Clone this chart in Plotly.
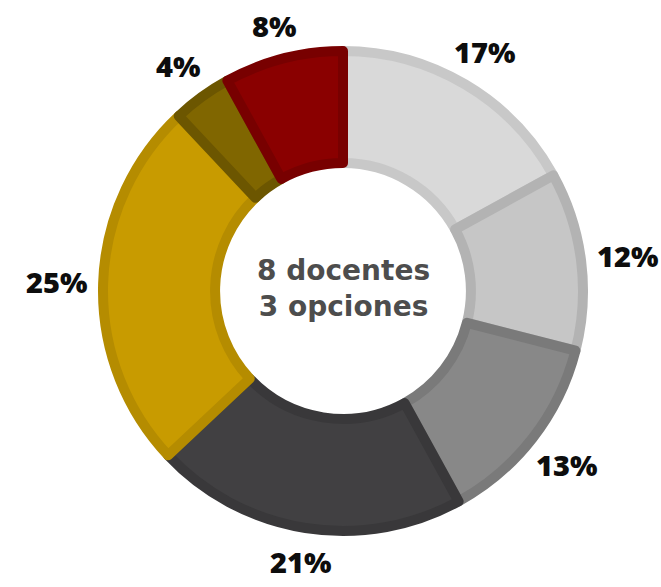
import math
import plotly.graph_objects as go

# datos
etiquetas = ["A", "B", "C", "D", "E", "F", "G"]
valores = [17, 12, 13, 21, 25, 4, 8]
colores = ["#d9d9d9", "#c6c6c6", "#888888", "#414042", "#c89b00", "#806600", "#8a0000"]
bordes = ["#c8c8c8", "#b3b3b3", "#7a7a7a", "#39383a", "#b58c00", "#6c5600", "#780000"]
texto_centro = "8 docentes<br>3 opciones"

W, H = 661, 587
cx, cy = 343, 296          # centro en px (desde abajo)
R = 240                    # radio del pastel en px
SEP = 16                   # hueco entre el anillo y las etiquetas
MEDIO_ANCHO, MEDIO_ALTO = 26, 12   # medio tamaño aproximado de una etiqueta

fig = go.Figure(go.Pie(
    labels=etiquetas, values=valores,
    sort=False, direction="clockwise", rotation=0,
    hole=0.533,
    marker=dict(colors=colores, line=dict(color=bordes, width=10)),
    textinfo="none", hoverinfo="label+percent",
    domain=dict(x=[(cx - R) / W, (cx + R) / W], y=[(cy - R) / H, (cy + R) / H]),
    showlegend=False,
))

# etiquetas de porcentaje fuera del anillo, en el ángulo medio de cada sector
total = sum(valores)
acum = 0
for v in valores:
    ang = 2 * math.pi * (acum + v / 2) / total
    acum += v
    r = R + 5 + SEP + math.hypot(MEDIO_ANCHO * math.sin(ang), MEDIO_ALTO * math.cos(ang))
    x = cx + r * math.sin(ang)
    y = cy + r * math.cos(ang)
    fig.add_annotation(
        x=x / W, y=y / H, xref="paper", yref="paper",
        xanchor="center", yanchor="middle",
        text=f"{round(100 * v / total)}%", showarrow=False,
        font=dict(family="Open Sans", size=29, color="#0d0d0d", weight=800),
    )

fig.add_annotation(
    x=cx / W, y=(cy + 3) / H, xref="paper", yref="paper",
    xanchor="center", yanchor="middle",
    text=texto_centro, showarrow=False,
    font=dict(family="DejaVu Sans", size=28, color="#4d4d4d", weight=700),
)

fig.update_layout(
    width=W, height=H,
    margin=dict(l=0, r=0, t=0, b=0),
    paper_bgcolor="white", plot_bgcolor="white",
)

# quitar el margen por defecto del <body> para que la figura ocupe toda la ventana
fig.write_html("out.html", config={"displayModeBar": False},
               post_script="document.body.style.margin = '0';")
